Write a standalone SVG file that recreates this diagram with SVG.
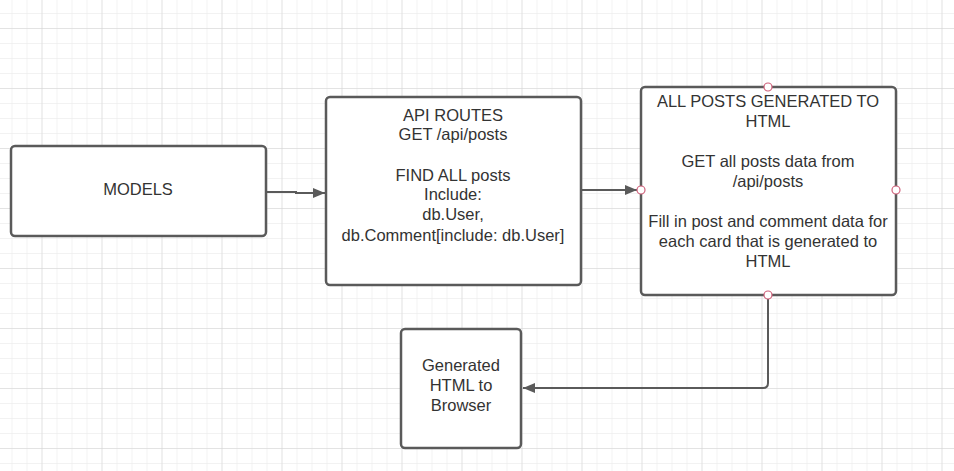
<svg xmlns="http://www.w3.org/2000/svg" width="954" height="471" viewBox="0 0 954 471">
<defs>
<pattern id="minor" x="11.5" y="13" width="15" height="15" patternUnits="userSpaceOnUse">
<path d="M0 0V15M0 0H15" fill="none" stroke="#e6e6e6" stroke-width="1"/>
</pattern>
<pattern id="major" x="41.5" y="28" width="60" height="60" patternUnits="userSpaceOnUse">
<path d="M0 0V60M0 0H60" fill="none" stroke="#d4d4d4" stroke-width="1"/>
</pattern>
<marker id="arr" viewBox="0 0 12 10" refX="12" refY="5" markerWidth="12" markerHeight="10" markerUnits="userSpaceOnUse" orient="auto">
<path d="M0 0L12 5L0 10Z" fill="#5a5a5a"/>
</marker>
</defs>
<style>
.box{fill:#fff;stroke:#5a5a5a;stroke-width:2.5}
.t{font-family:"Liberation Sans",Arial,sans-serif;font-size:16.5px;fill:#333;text-anchor:middle}
.c{fill:none;stroke:#5a5a5a;stroke-width:2}
.pt{fill:#fff;stroke:#d0607a;stroke-width:1.2}
</style>
<rect width="954" height="471" fill="#fff"/>
<rect width="954" height="471" fill="url(#minor)"/>
<rect width="954" height="471" fill="url(#major)"/>
<g id="connectors">
<path class="c" d="M266 192H296V193H325" marker-end="url(#arr)"/>
<path class="c" d="M581 190H637" marker-end="url(#arr)"/>
<path class="c" d="M768 295V383Q768 388 763 388H523" marker-end="url(#arr)"/>
</g>
<g id="models">
<rect class="box" x="11" y="146" width="255" height="90" rx="4"/>
<text class="t" x="138" y="195">MODELS</text>
</g>
<g id="api-routes">
<rect class="box" x="326" y="97" width="255" height="188" rx="4"/>
<text class="t" x="453" y="121">API ROUTES</text>
<text class="t" x="453" y="140">GET /api/posts</text>
<text class="t" x="453" y="181">FIND ALL posts</text>
<text class="t" x="453" y="200">Include:</text>
<text class="t" x="453" y="220">db.User,</text>
<text class="t" x="453" y="241">db.Comment[include: db.User]</text>
</g>
<g id="all-posts">
<rect class="box" x="641" y="87" width="255" height="208" rx="4"/>
<text class="t" x="768" y="107">ALL POSTS GENERATED TO</text>
<text class="t" x="768" y="127">HTML</text>
<text class="t" x="768" y="167">GET all posts data from</text>
<text class="t" x="768" y="187">/api/posts</text>
<text class="t" x="768" y="227">Fill in post and comment data for</text>
<text class="t" x="768" y="247">each card that is generated to</text>
<text class="t" x="768" y="267">HTML</text>
<circle class="pt" cx="768" cy="87" r="4"/>
<circle class="pt" cx="896" cy="190" r="4"/>
<circle class="pt" cx="768" cy="295" r="4"/>
<circle class="pt" cx="641" cy="190" r="4"/>
</g>
<g id="generated">
<rect class="box" x="401" y="329" width="120" height="119" rx="4"/>
<text class="t" x="461" y="371">Generated</text>
<text class="t" x="461" y="391">HTML to</text>
<text class="t" x="461" y="411">Browser</text>
</g>
</svg>
